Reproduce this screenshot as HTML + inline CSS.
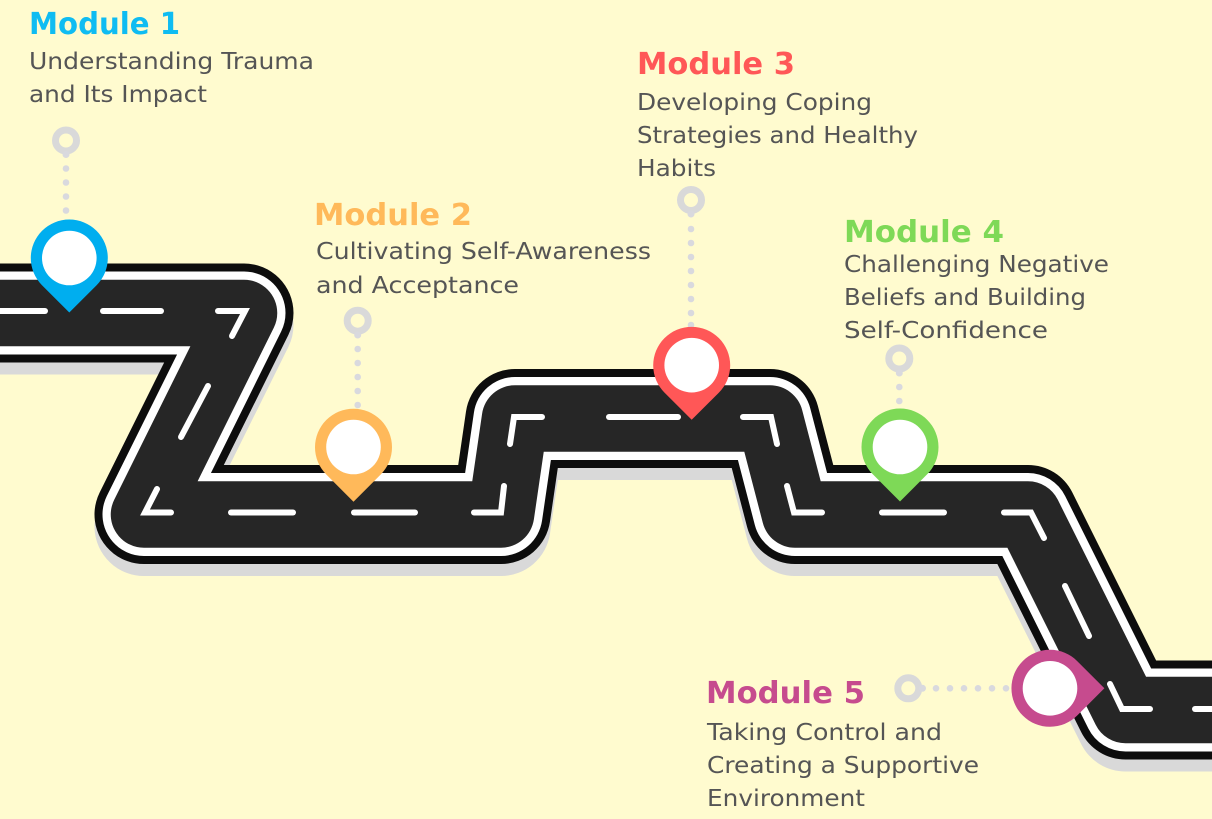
<!DOCTYPE html>
<html>
<head>
<meta charset="utf-8">
<style>
html,body{margin:0;padding:0;background:#fffbcf;}
svg{display:block;}
.h{font-family:"DejaVu Sans","Liberation Sans",sans-serif;font-weight:700;font-size:30px;}
.b{font-family:"DejaVu Sans","Liberation Sans",sans-serif;font-size:23px;fill:#555555;}
</style>
</head>
<body>
<svg width="1212" height="819" viewBox="0 0 1212 819" xmlns="http://www.w3.org/2000/svg">
<rect width="1212" height="819" fill="#fffbcf"/>
<defs>
<path id="road" d="M-60 313 L244 313 L144 514.500 L501 514.500 L515 418.500 L770 418.500 L795 514.500 L1028 514.500 L1125.500 710 L1280 710" fill="none" stroke-linejoin="round"/>
</defs>
<use href="#road" transform="translate(0,12)" stroke="#d9d9d9" stroke-width="99"/>
<use href="#road" stroke="#0d0d0d" stroke-width="99"/>
<use href="#road" stroke="#ffffff" stroke-width="83"/>
<use href="#road" stroke="#262626" stroke-width="66.500"/>

<g fill="none" stroke="#ffffff" stroke-width="6" stroke-linecap="round" stroke-linejoin="miter">
<path d="M-5 311 H45"/>
<path d="M103 311 H161"/>
<path d="M218 311 H245 L232 336"/>
<path d="M208 386 L181 437"/>
<path d="M157 489 L145 512.500 H171"/>
<path d="M231 512.500 H293"/>
<path d="M354 512.500 H415"/>
<path d="M474 512.500 H501 L504 486"/>
<path d="M510 444 L514 417 H542"/>
<path d="M609 417 H678"/>
<path d="M743 417 H771 L777 444"/>
<path d="M787 486 L794 512.500 H822"/>
<path d="M882 512.500 H944"/>
<path d="M1004 512.500 H1031 L1044 538"/>
<path d="M1065 586 L1089 636"/>
<path d="M1110 684 L1122 709 H1150"/>
<path d="M1195 709 H1220"/>
</g>

<!-- connectors -->
<g fill="none" stroke="#d9d9d9" stroke-width="7">
<circle cx="66" cy="140.500" r="10.500"/>
<circle cx="357.700" cy="320.700" r="10.500"/>
<circle cx="691" cy="200" r="10.500"/>
<circle cx="899.300" cy="358.500" r="10.500"/>
<circle cx="908.300" cy="688.300" r="10.500"/>
</g>
<g fill="#d9d9de">
<circle cx="66" cy="154.500" r="3.500"/><circle cx="66" cy="168.500" r="3.300"/><circle cx="66" cy="182.500" r="3.300"/><circle cx="66" cy="196.500" r="3.300"/><circle cx="66" cy="210.500" r="3.300"/>
<circle cx="357.700" cy="335" r="3.500"/><circle cx="357.700" cy="349" r="3.300"/><circle cx="357.700" cy="363" r="3.300"/><circle cx="357.700" cy="377" r="3.300"/><circle cx="357.700" cy="391" r="3.300"/><circle cx="357.700" cy="405" r="3.300"/>
<circle cx="691" cy="214" r="3.500"/><circle cx="691" cy="229" r="3.300"/><circle cx="691" cy="243" r="3.300"/><circle cx="691" cy="257" r="3.300"/><circle cx="691" cy="271" r="3.300"/><circle cx="691" cy="285" r="3.300"/><circle cx="691" cy="299" r="3.300"/><circle cx="691" cy="313" r="3.300"/><circle cx="691" cy="325" r="3.300"/>
<circle cx="899.300" cy="373" r="3.500"/><circle cx="899.300" cy="387" r="3.300"/><circle cx="899.300" cy="401" r="3.300"/>
<circle cx="922.500" cy="688.300" r="3.500"/><circle cx="936" cy="688.300" r="3.300"/><circle cx="950" cy="688.300" r="3.300"/><circle cx="964" cy="688.300" r="3.300"/><circle cx="978" cy="688.300" r="3.300"/><circle cx="992" cy="688.300" r="3.300"/><circle cx="1006" cy="688.300" r="3.300"/>
</g>

<!-- pins -->
<path d="M69.300 312.500 L42 285.200 A38.500 38.500 0 1 1 96.600 285.200 Z" fill="#00aeef"/>
<circle cx="69.300" cy="258" r="27.300" fill="#ffffff"/>
<path d="M353.500 501.700 L326.300 474.500 A38.500 38.500 0 1 1 380.700 474.500 Z" fill="#ffb95a"/>
<circle cx="353.500" cy="447" r="27.300" fill="#ffffff"/>
<path d="M691.700 419.800 L664.500 392.600 A38.500 38.500 0 1 1 718.900 392.600 Z" fill="#ff5757"/>
<circle cx="691.700" cy="365.200" r="27.300" fill="#ffffff"/>
<path d="M900 501.500 L872.800 474.300 A38.500 38.500 0 1 1 927.200 474.300 Z" fill="#7ed957"/>
<circle cx="900" cy="447" r="27.300" fill="#ffffff"/>
<path d="M1104.400 688.300 L1077.200 715.500 A38.500 38.500 0 1 1 1077.200 661.100 Z" fill="#c64b8e"/>
<circle cx="1050" cy="688.300" r="27.300" fill="#ffffff"/>

<!-- text -->
<text class="h" x="29" y="34" fill="#0fbcf2" textLength="151" lengthAdjust="spacingAndGlyphs">Module 1</text>
<text class="b" x="29" y="69" textLength="285" lengthAdjust="spacingAndGlyphs">Understanding Trauma</text>
<text class="b" x="29" y="102" textLength="178" lengthAdjust="spacingAndGlyphs">and Its Impact</text>

<text class="h" x="314" y="225" fill="#ffb95a" textLength="158" lengthAdjust="spacingAndGlyphs">Module 2</text>
<text class="b" x="316" y="259" textLength="335" lengthAdjust="spacingAndGlyphs">Cultivating Self-Awareness</text>
<text class="b" x="316" y="293" textLength="203" lengthAdjust="spacingAndGlyphs">and Acceptance</text>

<text class="h" x="637" y="74" fill="#ff5757" textLength="158" lengthAdjust="spacingAndGlyphs">Module 3</text>
<text class="b" x="637" y="110" textLength="235" lengthAdjust="spacingAndGlyphs">Developing Coping</text>
<text class="b" x="637" y="143" textLength="281" lengthAdjust="spacingAndGlyphs">Strategies and Healthy</text>
<text class="b" x="637" y="176" textLength="79" lengthAdjust="spacingAndGlyphs">Habits</text>

<text class="h" x="844" y="242" fill="#7ed957" textLength="160" lengthAdjust="spacingAndGlyphs">Module 4</text>
<text class="b" x="844" y="272" textLength="265" lengthAdjust="spacingAndGlyphs">Challenging Negative</text>
<text class="b" x="844" y="305" textLength="242" lengthAdjust="spacingAndGlyphs">Beliefs and Building</text>
<text class="b" x="844" y="338" textLength="204" lengthAdjust="spacingAndGlyphs">Self-Confidence</text>

<text class="h" x="706" y="703" fill="#c64b8e" textLength="159" lengthAdjust="spacingAndGlyphs">Module 5</text>
<text class="b" x="707" y="740" textLength="235" lengthAdjust="spacingAndGlyphs">Taking Control and</text>
<text class="b" x="707" y="773" textLength="272" lengthAdjust="spacingAndGlyphs">Creating a Supportive</text>
<text class="b" x="707" y="806" textLength="158" lengthAdjust="spacingAndGlyphs">Environment</text>
</svg>
</body>
</html>
